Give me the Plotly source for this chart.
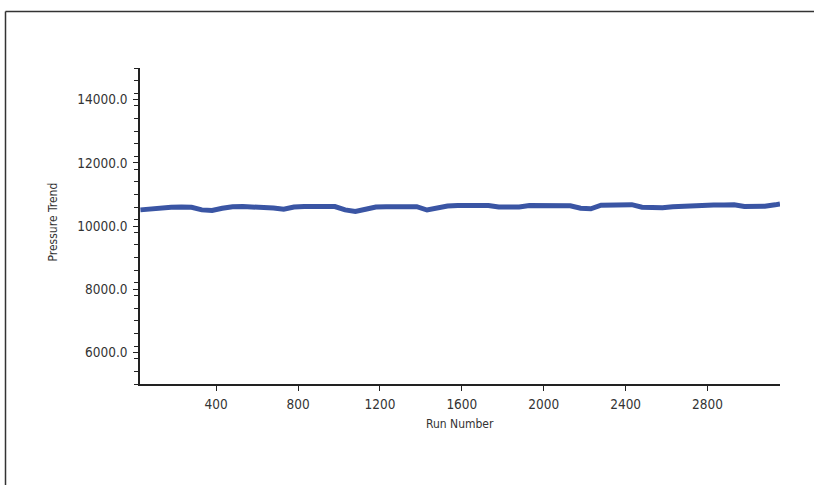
import plotly.graph_objects as go

run_number = [30, 80, 130, 180, 230, 280, 330, 380, 430, 480, 530, 580, 630, 680, 730,
              780, 830, 880, 930, 980, 1030, 1080, 1130, 1180, 1230, 1280, 1330, 1380,
              1430, 1480, 1530, 1580, 1630, 1680, 1730, 1780, 1830, 1880, 1930, 1980,
              2030, 2080, 2130, 2180, 2230, 2280, 2330, 2380, 2430, 2480, 2530, 2580,
              2630, 2680, 2730, 2780, 2830, 2880, 2930, 2980, 3030, 3080, 3130, 3154]
pressure = [10510, 10540, 10590, 10595, 10600, 10590, 10510, 10490, 10560, 10610, 10615,
            10610, 10605, 10570, 10530, 10600, 10620, 10625, 10620, 10615, 10510, 10460,
            10530, 10600, 10610, 10620, 10615, 10610, 10505, 10560, 10630, 10645, 10650,
            10660, 10650, 10600, 10595, 10605, 10645, 10650, 10645, 10650, 10640, 10560,
            10545, 10660, 10675, 10670, 10675, 10595, 10570, 10580, 10610, 10630, 10640,
            10660, 10665, 10665, 10670, 10615, 10615, 10625, 10670, 10700]

x_ticks = [400, 800, 1200, 1600, 2000, 2400, 2800]
y_ticks = [6000, 8000, 10000, 12000, 14000]
y_tick_labels = ["6000.0", "8000.0", "10000.0", "12000.0", "14000.0"]

FONT = "DejaVu Sans Condensed, DejaVu Sans, sans-serif"
AX = "#222222"

fig = go.Figure()
fig.add_trace(go.Scatter(x=run_number, y=pressure, mode="lines",
                         line=dict(color="#3a55a4", width=5), showlegend=False,
                         hoverinfo="skip"))

W, H = 814, 485
L, T = 140, 68
R = W - 780
B = H - 384
pw, ph = W - L - R, H - T - B

def px(x):
    return (x - L) / pw

def py(y):
    return (H - B - y) / ph

frame = dict(color="#333333", width=1.5)

fig.update_layout(
    width=W, height=H,
    margin=dict(l=L, r=R, t=T, b=B, pad=0),
    paper_bgcolor="white", plot_bgcolor="white",
    font=dict(family=FONT, size=13, color="#333333"),
    xaxis=dict(range=[28, 3154], tickvals=x_ticks, ticks="outside", ticklen=5,
               tickcolor=AX, showline=True, linecolor=AX, linewidth=1.5,
               showgrid=False, zeroline=False, tickfont=dict(size=13.5),
               ticklabelstandoff=2),
    yaxis=dict(range=[5000, 15000], tickvals=y_ticks, ticktext=y_tick_labels,
               ticks="outside", ticklen=5, tickcolor=AX, showline=True,
               linecolor=AX, linewidth=1.5, showgrid=False, zeroline=False,
               tickfont=dict(size=13.5), ticklabelstandoff=3,
               minor=dict(tick0=5000, dtick=400, ticks="outside", ticklen=4,
                          tickcolor=AX, showgrid=False)),
    shapes=[
        dict(type="line", xref="paper", yref="paper",
             x0=px(5.5), x1=px(814), y0=py(11.5), y1=py(11.5), line=frame),
        dict(type="line", xref="paper", yref="paper",
             x0=px(5.5), x1=px(5.5), y0=py(11.5), y1=py(485), line=frame),
    ],
    annotations=[
        dict(text="Pressure Trend", xref="paper", yref="paper", x=px(52.5), y=py(222),
             xanchor="center", yanchor="middle", textangle=-90, showarrow=False,
             font=dict(size=12, color="#333333")),
        dict(text="Run Number", xref="paper", yref="paper", x=px(460), y=py(424),
             xanchor="center", yanchor="middle", showarrow=False,
             font=dict(size=12, color="#333333")),
    ],
)

fig.write_html("out.html", config={"displayModeBar": False},
               post_script="document.body.style.margin='0';document.body.style.overflow='hidden';")
